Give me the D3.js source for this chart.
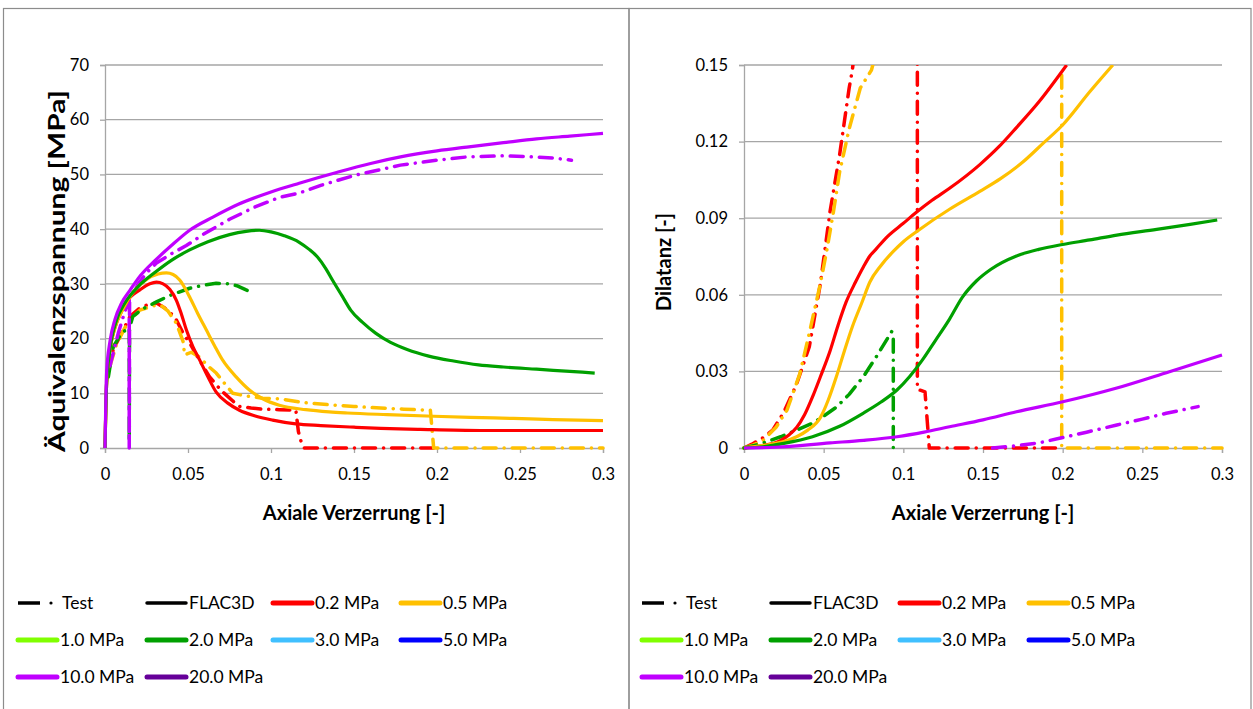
<!DOCTYPE html>
<html><head><meta charset="utf-8">
<script src="https://cdn.jsdelivr.net/npm/d3@7"></script>
<style>body{margin:0;background:#fff;} svg{display:block;font-family:Lato,'Liberation Sans',sans-serif;}</style>
</head><body><svg id="c" width="1253" height="709"></svg>
<script>
// ---------- tick labels ----------
const xTicks = [0, 0.05, 0.1, 0.15, 0.2, 0.25, 0.3];
const xTickLabels = ["0", "0.05", "0.1", "0.15", "0.2", "0.25", "0.3"];
const stressTicks = [0, 10, 20, 30, 40, 50, 60, 70];
const stressTickLabels = ["0", "10", "20", "30", "40", "50", "60", "70"];
const dilTicks = [0, 0.03, 0.06, 0.09, 0.12, 0.15];
const dilTickLabels = ["0", "0.03", "0.06", "0.09", "0.12", "0.15"];

// ---------- left chart: equivalent stress [MPa] vs axial strain ----------
const stressFlac02 = [[0,0],[0.001,12],[0.003,18],[0.006,22],[0.01,25],[0.015,27.5],[0.021,28.9],[0.027,30],[0.031,30.3],[0.035,30],[0.039,29],[0.043,27],[0.046,24.5],[0.049,21.6],[0.053,18.5],[0.057,16.1],[0.062,13],[0.067,10.2],[0.074,8.2],[0.081,6.9],[0.09,5.9],[0.101,5.1],[0.115,4.4],[0.13,4.1],[0.15,3.8],[0.166,3.6],[0.19,3.4],[0.226,3.2],[0.26,3.2],[0.3,3.2]];
const stressFlac05 = [[0,0],[0.001,12],[0.003,18],[0.006,22],[0.011,25.5],[0.017,28.5],[0.025,30.8],[0.032,31.8],[0.037,32],[0.041,31.7],[0.045,30.7],[0.048,29.3],[0.051,27.6],[0.056,24.5],[0.061,21.6],[0.066,18.7],[0.071,16],[0.079,13],[0.087,10.6],[0.095,9],[0.105,7.8],[0.121,7],[0.135,6.6],[0.146,6.4],[0.17,6.1],[0.198,5.8],[0.22,5.6],[0.246,5.4],[0.27,5.2],[0.3,5.0]];
const stressFlac20 = [[0,0],[0.001,12],[0.003,18],[0.007,23.4],[0.012,26.5],[0.02,29.5],[0.031,32.3],[0.04,34.3],[0.051,36.2],[0.062,37.7],[0.075,39],[0.085,39.6],[0.093,39.8],[0.1,39.5],[0.108,38.8],[0.117,37.6],[0.123,36.3],[0.128,34.9],[0.133,32.8],[0.137,30.7],[0.143,27.7],[0.148,25.2],[0.155,23],[0.163,21],[0.172,19.3],[0.182,18],[0.195,16.8],[0.21,15.9],[0.225,15.2],[0.24,14.8],[0.26,14.4],[0.28,14],[0.295,13.7]];
const stressFlac10 = [[0,0],[0.001,14],[0.003,19.5],[0.006,23.5],[0.01,26.5],[0.015,28.8],[0.02,31],[0.031,34.5],[0.04,37],[0.051,39.8],[0.065,42.2],[0.08,44.5],[0.1,46.8],[0.117,48.4],[0.14,50.4],[0.16,52],[0.178,53.2],[0.2,54.3],[0.218,55],[0.24,55.8],[0.26,56.5],[0.28,57],[0.3,57.5]];
const stressTest02 = [[0.002,14],[0.005,18],[0.01,21],[0.015,24],[0.021,25.6],[0.026,26.2],[0.031,26.5],[0.036,25.6],[0.04,24.5],[0.043,23.4],[0.047,21],[0.051,19.2],[0.057,16],[0.063,13],[0.07,10.5],[0.077,8.6],[0.081,7.6],[0.088,7.3],[0.095,7.1],[0.105,7],[0.115,6.9],[0.1165,3],[0.118,1.3],[0.12,0],[0.198,0]];
const stressTest05 = [[0.003,15],[0.007,19],[0.012,22],[0.017,24],[0.021,25.2],[0.029,26],[0.034,26],[0.038,25],[0.043,22.8],[0.047,19.5],[0.048,17],[0.052,17.5],[0.057,16.6],[0.062,15],[0.067,13.7],[0.072,11.8],[0.077,10],[0.085,9.5],[0.095,9.1],[0.105,9],[0.12,8.3],[0.135,7.9],[0.15,7.6],[0.166,7.3],[0.18,7.1],[0.196,6.9],[0.198,0],[0.3,0]];
const stressTest20 = [[0.002,13],[0.005,18.5],[0.01,21],[0.0146,22],[0.0146,1],[0.0148,22],[0.0167,24],[0.022,25.3],[0.031,26.7],[0.04,28],[0.051,29.2],[0.06,29.8],[0.067,30.1],[0.075,30],[0.08,29.6],[0.085,28.9],[0.089,28.4]];
const stressTest10 = [[0.003,15],[0.008,21],[0.012,25],[0.0146,27],[0.0146,0],[0.0148,27],[0.02,30],[0.025,32],[0.031,33.8],[0.04,35.5],[0.049,37],[0.06,39.2],[0.075,41.8],[0.09,44],[0.105,45.8],[0.117,46.6],[0.13,48],[0.15,49.8],[0.178,51.7],[0.2,52.6],[0.218,53.2],[0.24,53.4],[0.258,53.2],[0.27,53],[0.281,52.6]];

// ---------- right chart: dilatancy [-] vs axial strain ----------
const dilFlac02 = [[0,0],[0.01,0.0008],[0.023,0.003],[0.028,0.005],[0.033,0.008],[0.038,0.013],[0.043,0.02],[0.048,0.028],[0.054,0.038],[0.059,0.048],[0.064,0.057],[0.07,0.065],[0.075,0.071],[0.079,0.0752],[0.083,0.078],[0.09,0.0828],[0.1,0.088],[0.108,0.0922],[0.118,0.097],[0.129,0.1017],[0.148,0.111],[0.16,0.118],[0.171,0.1255],[0.185,0.1355],[0.2025,0.15]];
const dilFlac05 = [[0,0],[0.012,0.001],[0.025,0.0025],[0.033,0.0044],[0.04,0.007],[0.048,0.012],[0.053,0.019],[0.058,0.028],[0.063,0.038],[0.068,0.0475],[0.074,0.057],[0.079,0.065],[0.086,0.0715],[0.094,0.0772],[0.1,0.0808],[0.11,0.0855],[0.129,0.0935],[0.148,0.1005],[0.161,0.1055],[0.175,0.112],[0.188,0.1195],[0.2,0.1265],[0.217,0.1395],[0.2315,0.15]];
const dilFlac20 = [[0,0],[0.012,0.0005],[0.025,0.0018],[0.043,0.0044],[0.06,0.0085],[0.075,0.0137],[0.086,0.018],[0.096,0.0227],[0.104,0.028],[0.112,0.0345],[0.12,0.042],[0.129,0.0505],[0.137,0.059],[0.146,0.0655],[0.155,0.07],[0.171,0.0752],[0.185,0.0778],[0.2,0.0797],[0.217,0.0815],[0.234,0.0834],[0.259,0.0856],[0.28,0.0876],[0.297,0.0893]];
const dilFlac10 = [[0,0],[0.02,0.0003],[0.054,0.002],[0.075,0.003],[0.096,0.0044],[0.113,0.0062],[0.129,0.0083],[0.15,0.011],[0.171,0.0142],[0.2,0.0181],[0.234,0.0235],[0.267,0.0299],[0.3,0.0364]];
const dilTest02 = [[0,0],[0.005,0.0015],[0.012,0.004],[0.018,0.007],[0.025,0.014],[0.033,0.025],[0.041,0.0397],[0.048,0.0646],[0.054,0.0926],[0.06,0.1148],[0.066,0.141],[0.068,0.148],[0.072,0.17],null,[0.1088,0.17],[0.1088,0.023],[0.1136,0.022],[0.1163,0],[0.2,0]];
const dilTest05 = [[0,0],[0.006,0.0012],[0.012,0.003],[0.02,0.008],[0.027,0.0149],[0.035,0.029],[0.041,0.045],[0.048,0.0646],[0.052,0.0775],[0.056,0.092],[0.06,0.108],[0.066,0.125],[0.073,0.141],[0.08,0.148],[0.085,0.16],null,[0.1994,0.146],[0.1994,0],[0.3,0]];
const dilTest20 = [[0,0],[0.01,0.0015],[0.023,0.0044],[0.033,0.007],[0.043,0.0097],[0.05,0.0125],[0.058,0.016],[0.066,0.021],[0.075,0.028],[0.083,0.0357],[0.0927,0.0456],[0.0937,0.044],[0.0937,0]];
const dilTest10 = [[0.156,0],[0.17,0.0008],[0.185,0.002],[0.198,0.0038],[0.215,0.0062],[0.234,0.009],[0.25,0.0113],[0.265,0.0136],[0.285,0.0162]];

// ---------- legend ----------
const legendLabels = ["Test","FLAC3D","0.2 MPa","0.5 MPa","1.0 MPa","2.0 MPa","3.0 MPa","5.0 MPa","10.0 MPa","20.0 MPa"];
const legendColors = ["#000000","#000000","#ff0000","#ffc000","#80ff00","#00a000","#40c0ff","#0000ff","#c000ff","#660099"];

const C02 = "#ff0000", C05 = "#ffc000", C20 = "#00a000", C10 = "#c000ff";
const DASH = "13,8,0.1,8";

const svg = d3.select("#c");
svg.append("rect").attr("x",3.5).attr("y",8.5).attr("width",625.5).attr("height",710).attr("fill","none").attr("stroke","#8c8c8c").attr("stroke-width",1.2);
svg.append("rect").attr("x",629).attr("y",8.5).attr("width",622).attr("height",710).attr("fill","none").attr("stroke","#8c8c8c").attr("stroke-width",1.2);

function drawChart(cfg) {
  const x = d3.scaleLinear().domain([0,0.3]).range([cfg.x0, cfg.x1]);
  const y = d3.scaleLinear().domain(cfg.yDomain).range([448, 65]);
  const g = svg.append("g");
  g.selectAll(".grid").data(cfg.yTicks.slice(1)).enter().append("line")
    .attr("x1", cfg.x0).attr("x2", cfg.x1)
    .attr("y1", d => y(d)).attr("y2", d => y(d))
    .attr("stroke","#a6a6a6").attr("stroke-width",1.3);
  const ya = g.append("g").attr("transform",`translate(${cfg.x0},0)`)
    .call(d3.axisLeft(y).tickValues(cfg.yTicks).tickSize(5).tickPadding(11)
      .tickFormat((d,i) => cfg.yLabels[i]));
  const xa = g.append("g").attr("transform",`translate(0,448)`)
    .call(d3.axisBottom(x).tickValues(xTicks).tickSize(5).tickPadding(15)
      .tickFormat((d,i) => xTickLabels[i]));
  [ya, xa].forEach(a => {
    a.select(".domain").attr("stroke","#a6a6a6").attr("stroke-width",1.3);
    a.selectAll(".tick line").attr("stroke","#a6a6a6").attr("stroke-width",1.3);
    a.selectAll("text").attr("font-size",16.5).attr("fill","#000").attr("font-family","Lato");
  });
  g.append("text").attr("x",(cfg.x0+cfg.x1)/2).attr("y",520).attr("text-anchor","middle")
    .attr("font-size",20).attr("font-weight","bold").text("Axiale Verzerrung [-]");
  const yt = g.append("text").attr("transform",`translate(${cfg.yTitleX},${cfg.yTitleY}) rotate(-90)`).attr("text-anchor","middle")
    .attr("font-size",cfg.yTitleSize).attr("font-weight","bold").text(cfg.yTitle);
  if (cfg.yTitleLen) yt.attr("textLength", cfg.yTitleLen).attr("lengthAdjust","spacingAndGlyphs");
  const cid = "clip" + cfg.id;
  svg.append("clipPath").attr("id",cid).append("rect")
    .attr("x",cfg.x0-4).attr("y",65).attr("width",cfg.x1-cfg.x0+8).attr("height",448-65+5);
  const lineTest = d3.line().defined(d => d !== null).x(d => x(d[0])).y(d => y(d[1]));
  const lineFlac = d3.line().curve(d3.curveMonotoneX).x(d => x(d[0])).y(d => y(d[1]));
  const pg = g.append("g").attr("clip-path",`url(#${cid})`);
  cfg.series.forEach(s => {
    pg.append("path").attr("d", (s.test ? lineTest : lineFlac)(s.data)).attr("fill","none")
      .attr("stroke", s.color).attr("stroke-width", s.test ? 3.5 : 3.2)
      .attr("stroke-linejoin","round").attr("stroke-linecap", s.test ? "round" : "butt")
      .attr("stroke-dasharray", s.test ? DASH : null);
  });
  const rows = [603, 640, 677];
  legendLabels.forEach((lab, i) => {
    const r = Math.floor(i/4), c = i%4;
    const lx = cfg.panelX + cfg.legendCols[c], ly = rows[r];
    if (i === 0) {
      g.append("line").attr("x1",lx).attr("x2",lx+22).attr("y1",ly).attr("y2",ly)
        .attr("stroke","#000").attr("stroke-width",3.5);
      g.append("circle").attr("cx",lx+33).attr("cy",ly).attr("r",1.6).attr("fill","#000");
      g.append("text").attr("x",lx+44).attr("y",ly+6).attr("font-size",17.5).text(lab);
    } else {
      g.append("line").attr("x1",lx).attr("x2",lx+39).attr("y1",ly).attr("y2",ly)
        .attr("stroke",legendColors[i]).attr("stroke-width", i === 1 ? 3.5 : 5).attr("stroke-linecap","round");
      g.append("text").attr("x",lx+42).attr("y",ly+6).attr("font-size",17.5).text(lab);
    }
  });
}

drawChart({
  id:"L", x0:105, x1:603, yDomain:[0,70], yTicks:stressTicks, yLabels:stressTickLabels,
  yTitle:"Äquivalenzspannung [MPa]", yTitleX:65, yTitleY:271, yTitleSize:22, yTitleLen:362,
  panelX:0, legendCols:[18,147,273,401],
  series:[
    {data:stressTest02,color:C02,test:true},{data:stressTest05,color:C05,test:true},
    {data:stressTest20,color:C20,test:true},{data:stressTest10,color:C10,test:true},
    {data:stressFlac02,color:C02},{data:stressFlac05,color:C05},
    {data:stressFlac20,color:C20},{data:stressFlac10,color:C10}
  ]
});
drawChart({
  id:"R", x0:744, x1:1222, yDomain:[0,0.15], yTicks:dilTicks, yLabels:dilTickLabels,
  yTitle:"Dilatanz [-]", yTitleX:671, yTitleY:262, yTitleSize:20, yTitleLen:null,
  panelX:629, legendCols:[13,142,271,400],
  series:[
    {data:dilTest02,color:C02,test:true},{data:dilTest05,color:C05,test:true},
    {data:dilTest20,color:C20,test:true},{data:dilTest10,color:C10,test:true},
    {data:dilFlac02,color:C02},{data:dilFlac05,color:C05},
    {data:dilFlac20,color:C20},{data:dilFlac10,color:C10}
  ]
});
</script></body></html>
